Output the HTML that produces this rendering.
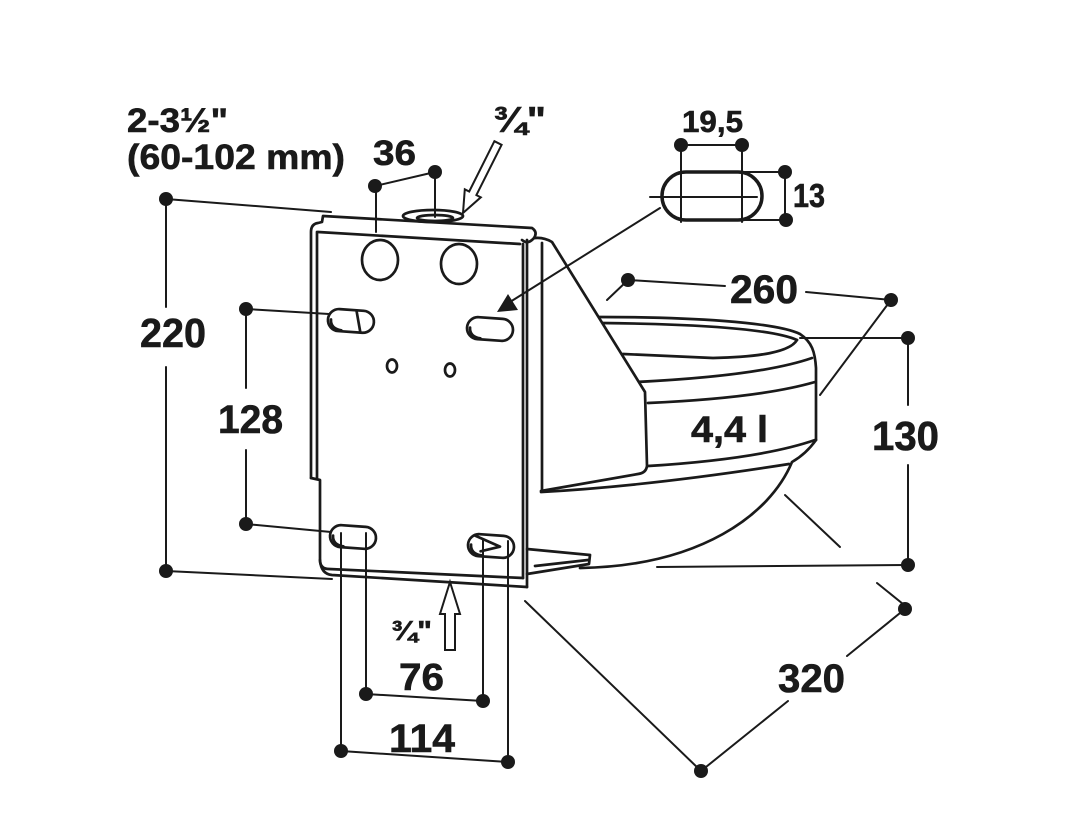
<!DOCTYPE html>
<html><head><meta charset="utf-8"><style>
html,body{margin:0;padding:0;background:#fff;}
svg{display:block;}
text{font-family:"Liberation Sans",Arial,sans-serif;font-weight:bold;fill:#1a1a1a;stroke:#1a1a1a;stroke-width:0.6;}
</style></head><body>
<svg width="1082" height="826" viewBox="0 0 1082 826" xmlns="http://www.w3.org/2000/svg">
<rect width="1082" height="826" fill="#fff"/>

<!-- product drawing -->
<g stroke="#1a1a1a" stroke-width="2.7" fill="none" stroke-linejoin="round" stroke-linecap="round">
  <!-- bowl -->
  <path d="M598,317 C690,317 775,322 800,334 C812,342 815,352 816,368 L816,440" />
  <path d="M601,323 C690,324 770,328 797,340"/>
  <path d="M797,340 C790,352 760,357 713,358 L623,354"/>
  <path d="M636,382 Q760,376 812,358"/>
  <path d="M648,403 Q760,398 815,382"/>
  <path d="M648,466 Q760,459 815,440"/>
  <path d="M541,492 Q650,486 789,464"/>
  <path d="M816,440 Q806,454 792,462 C770,515 700,566 580,568"/>
  <!-- gusset -->
  <path d="M527,240 Q540,235 552,242 L645,392 L647,466 Q646,473 638,474 L541,491" fill="#fff"/>
  <line x1="542" y1="243" x2="542" y2="491"/>
  <!-- flange -->
  <path d="M527,549 L590,555 L589,564 L527,574" fill="#fff"/>
  <line x1="535" y1="566" x2="588" y2="560"/>
  <!-- plate -->
  <path d="M311,478 L311,232 Q311,224 318,223 L322,222 L323,216 L532,228 Q538,232 534,238 Q528,245 522,240" fill="#fff"/>
  <path d="M318,232 L520,244"/>
  <path d="M317,232 L317,478"/>
  <path d="M311,478 L320,480 L320,560 Q320,569 329,569 L523,578"/>
  <path d="M320,560 Q321,574 332,575 L527,587"/>
  <line x1="523" y1="244" x2="523" y2="578"/>
  <line x1="527" y1="240" x2="527" y2="587"/>
  <!-- pipe on top -->
  <ellipse cx="433" cy="216" rx="30" ry="6" fill="#fff"/>
  <ellipse cx="435" cy="218" rx="18" ry="3"/>
  <!-- big holes -->
  <ellipse cx="380" cy="260" rx="18" ry="20"/>
  <ellipse cx="459" cy="264" rx="18" ry="20"/>
  <!-- small holes -->
  <ellipse cx="392" cy="366" rx="5" ry="6.5"/>
  <ellipse cx="450" cy="370" rx="5" ry="6.5"/>
  <!-- slots -->
  <g transform="rotate(4 352 320)">
    <rect x="328" y="310" width="46" height="22" rx="11"/>
    <path d="M342,331 Q331,330 331,321"/>
    <line x1="356" y1="311" x2="361" y2="331"/>
  </g>
  <g transform="rotate(4 490 329)">
    <rect x="467" y="318" width="46" height="22" rx="11"/>
    <path d="M481,339 Q470,338 470,329"/>
  </g>
  <g transform="rotate(4 353 537)">
    <rect x="330" y="526" width="46" height="22" rx="11"/>
    <path d="M344,547 Q333,546 333,537"/>
  </g>
  <g transform="rotate(4 491 546)">
    <rect x="468" y="535" width="46" height="22" rx="11"/>
    <path d="M482,556 Q471,555 471,546"/>
    <polyline points="475,537 500,546 481,552"/>
  </g>
</g>

<g stroke="#1a1a1a" stroke-width="2" fill="none" stroke-linecap="round">
  <!-- 220 dimension -->
  <line x1="166" y1="199" x2="331" y2="212"/>
  <line x1="166" y1="199" x2="166" y2="307"/>
  <line x1="166" y1="367" x2="166" y2="571"/>
  <line x1="166" y1="571" x2="332" y2="579"/>
  <!-- 128 dimension -->
  <line x1="246" y1="309" x2="329" y2="314"/>
  <line x1="246" y1="309" x2="246" y2="388"/>
  <line x1="246" y1="450" x2="246" y2="524"/>
  <line x1="246" y1="524" x2="331" y2="532"/>
  <!-- 36 dimension -->
  <line x1="375" y1="186" x2="435" y2="172"/>
  <line x1="376" y1="186" x2="376" y2="232"/>
  <line x1="435" y1="172" x2="435" y2="217"/>
  <!-- 19,5 and 13 -->
  <line x1="681" y1="145" x2="742" y2="145"/>
  <line x1="681" y1="145" x2="681" y2="222"/>
  <line x1="742" y1="145" x2="742" y2="222"/>
  <line x1="742" y1="172" x2="785" y2="172"/>
  <line x1="733" y1="220" x2="785" y2="220"/>
  <line x1="785" y1="172" x2="785" y2="220"/>
  <line x1="650" y1="197" x2="757" y2="197"/>
  <!-- leader to plate -->
  <line x1="660" y1="208" x2="510" y2="302"/>
  <!-- 260 -->
  <line x1="628" y1="280" x2="607" y2="300"/>
  <line x1="628" y1="280" x2="725" y2="286"/>
  <line x1="806" y1="292" x2="891" y2="300"/>
  <line x1="891" y1="300" x2="820" y2="395"/>
  <!-- 130 -->
  <line x1="800" y1="338" x2="908" y2="338"/>
  <line x1="908" y1="338" x2="908" y2="405"/>
  <line x1="908" y1="465" x2="908" y2="565"/>
  <line x1="657" y1="567" x2="908" y2="565"/>
  <line x1="785" y1="495" x2="840" y2="547"/>
  <!-- 320 -->
  <line x1="877" y1="583" x2="903" y2="604"/>
  <line x1="905" y1="609" x2="847" y2="656"/>
  <line x1="788" y1="701" x2="701" y2="771"/>
  <line x1="701" y1="771" x2="525" y2="601"/>
  <!-- 76 / 114 -->
  <line x1="366" y1="533" x2="366" y2="694"/>
  <line x1="341" y1="533" x2="341" y2="751"/>
  <line x1="483" y1="540" x2="483" y2="701"/>
  <line x1="508" y1="541" x2="508" y2="762"/>
  <line x1="366" y1="694" x2="483" y2="701"/>
  <line x1="341" y1="751" x2="508" y2="762"/>
</g>
<!-- dots -->
<g fill="#1a1a1a">
  <circle cx="166" cy="199" r="7"/><circle cx="166" cy="571" r="7"/>
  <circle cx="246" cy="309" r="7"/><circle cx="246" cy="524" r="7"/>
  <circle cx="375" cy="186" r="7"/><circle cx="435" cy="172" r="7"/>
  <circle cx="681" cy="145" r="7"/><circle cx="742" cy="145" r="7"/>
  <circle cx="785" cy="172" r="7"/><circle cx="786" cy="220" r="7"/>
  <circle cx="628" cy="280" r="7"/><circle cx="891" cy="300" r="7"/>
  <circle cx="908" cy="338" r="7"/><circle cx="908" cy="565" r="7"/>
  <circle cx="905" cy="609" r="7"/><circle cx="701" cy="771" r="7"/>
  <circle cx="366" cy="694" r="7"/><circle cx="483" cy="701" r="7"/>
  <circle cx="341" cy="751" r="7"/><circle cx="508" cy="762" r="7"/>
  <polygon points="497,312 508,294 518,310"/>
</g>
<!-- oval slot -->
<rect x="662" y="172" width="100" height="48" rx="24" fill="none" stroke="#1a1a1a" stroke-width="3.5"/>

<!-- hollow arrows -->
<polygon points="494.4,141.2 501.6,144.8 476.4,195.1 480.8,197.3 463,213 464.8,189.3 469.2,191.5" fill="#fff" stroke="#1a1a1a" stroke-width="2" stroke-linejoin="miter"/>
<polygon points="450,582 460,614 455,614 455,650 445,650 445,614 440,614" fill="#fff" stroke="#1a1a1a" stroke-width="2" stroke-linejoin="miter"/>

<!-- labels -->
<text x="127" y="132" font-size="34" textLength="101" lengthAdjust="spacingAndGlyphs">2-3½"</text>
<text x="127" y="169" font-size="35" textLength="218" lengthAdjust="spacingAndGlyphs">(60-102 mm)</text>
<text x="373" y="165" font-size="35" textLength="43" lengthAdjust="spacingAndGlyphs">36</text>
<text x="493" y="132" font-size="36" textLength="53" lengthAdjust="spacingAndGlyphs">¾"</text>
<text x="682" y="132" font-size="31" textLength="61" lengthAdjust="spacingAndGlyphs">19,5</text>
<text x="793" y="207" font-size="33" textLength="32" lengthAdjust="spacingAndGlyphs">13</text>
<text x="730" y="303" font-size="40" textLength="68" lengthAdjust="spacingAndGlyphs">260</text>
<text x="140" y="347" font-size="41" textLength="66" lengthAdjust="spacingAndGlyphs">220</text>
<text x="218" y="433" font-size="40" textLength="65" lengthAdjust="spacingAndGlyphs">128</text>
<text x="872" y="450" font-size="41" textLength="67" lengthAdjust="spacingAndGlyphs">130</text>
<text x="691" y="442" font-size="37" textLength="77" lengthAdjust="spacingAndGlyphs">4,4 l</text>
<text x="778" y="692" font-size="40" textLength="67" lengthAdjust="spacingAndGlyphs">320</text>
<text x="399" y="690" font-size="38" textLength="45" lengthAdjust="spacingAndGlyphs">76</text>
<text x="389" y="752" font-size="40" textLength="66" lengthAdjust="spacingAndGlyphs">114</text>
<text x="391" y="640" font-size="28" textLength="41" lengthAdjust="spacingAndGlyphs">¾"</text>
</svg>
</body></html>
